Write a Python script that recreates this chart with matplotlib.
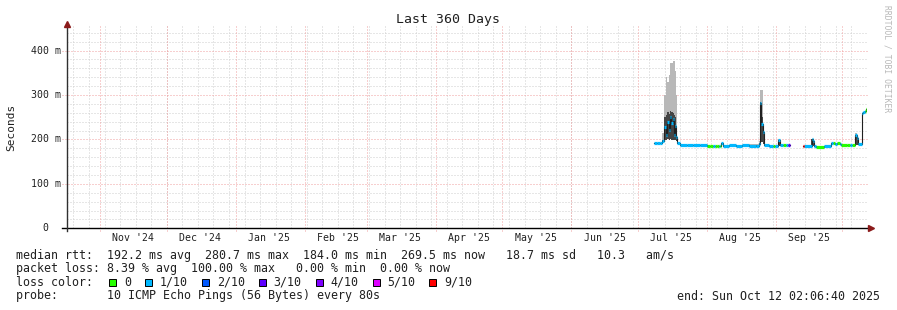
import datetime as dt

import numpy as np
import pandas as pd
import matplotlib
matplotlib.use("Agg")
import matplotlib.pyplot as plt
import matplotlib.dates as mdates
from matplotlib import transforms
from matplotlib.patches import Rectangle

W, H = 897, 310
MONO = "DejaVu Sans Mono"

# ---- data ------------------------------------------------------------------
START = dt.datetime(2024, 10, 17, 2, 6, 40)
END = dt.datetime(2025, 10, 12, 2, 6, 40)
BASE = dt.datetime(2025, 7, 1)  # day offsets below count from here

day = [7.1, 8.5, 10.0, 11.0, 11.8, 12.5, 13.2, 13.9, 14.5, 15.1,
       15.6, 16.2, 16.8, 17.3, 17.8, 19.0, 22.0, 25.0, 28.0, 31.0,
       32.5, 33.7, 34.5, 35.5, 36.3, 37.0, 37.6, 38.2, 41.0, 44.0,
       47.0, 50.0, 53.0, 54.4, 55.0, 55.6, 56.2, 56.8, 59.0, 61.0,
       61.8, 63.2, 63.8, 65.5, 66.5, 67.7, 68.3, 74.3, 74.8, 78.2,
       78.8, 79.4, 80.3, 83.6, 86.8, 87.8, 88.8, 89.8, 90.8, 91.6,
       94.0, 95.5, 96.2, 97.9, 98.4, 98.9, 101.0, 101.5, 102.0, 102.5]
median_ms = [192.8, 192.5, 193.0, 196, 229, 210, 240, 221, 251, 236,
             245, 210, 230, 205, 191, 188, 187, 188, 187, 186,
             186, 186, 185.5, 186, 186, 186, 191, 186, 186.5, 186,
             186.5, 186, 186, 190, 281, 235, 217, 187, 186, 186,
             186, 199, 187, 187, 186.5, 187, np.nan, 185, 186, 200,
             197, 186, 184, 185.5, 191, 191, 190.5, 191, 190, 188,
             188, 188, 188, 210, 203, 189, 259, 262, 265, 268]
loss_idx = [1, 1, 1, 1, 1, 1, 1, 1, 1, 1,
            1, 1, 1, 1, 1, 1, 1, 1, 1, 0,
            0, 1, 0, 0, 1, 0, 1, 1, 1, 1,
            1, 1, 1, 1, 1, 1, 1, 1, 1, 0,
            1, 1, 1, 0, 1, 3, 1, 6, 1, 1,
            1, 1, 0, 1, 1, 0, 1, 0, 1, 0,
            0, 1, 0, 1, 1, 1, 1, 1, 0, 0]

nan = np.nan
smoke_day = [10.8, 11.8, 12.5, 13.2, 13.9, 14.5, 15.1, 15.6, 16.2, 16.8, 17.3, 17.8,
             48.5, 54.4, 55.0, 55.6, 56.2, 56.8, 62.9, 63.8, 77.9, 78.8, 79.4,
             97.6, 98.4, 99.0]
smoke_lo = [192, 199, 199, 200, 199, 200, 199, 199, 199, 199, 196, nan,
            186, 187, 190, 195, 190, nan, 186, nan, 186, 186, nan, 187, 187, nan]
smoke_mid = [198, 250, 255, 262, 258, 265, 262, 260, 255, 250, 222, nan,
             188, 192, 285, 250, 220, nan, 199, nan, 200, 197, nan, 210, 203, nan]
smoke_top = [215, 300, 341, 330, 345, 371, 371, 377, 377, 353, 300, nan,
             190, 196, 311, 311, 230, nan, 200, nan, 202, 199, nan, 215, 206, nan]

loss_labels = ["0", "1/10", "2/10", "3/10", "4/10", "5/10", "9/10"]
loss_colors = ["#26ff00", "#00b8ff", "#0059ff", "#5e00ff", "#7e00ff", "#dd00ff", "#ff0000"]

month_labels = ["Nov '24", "Dec '24", "Jan '25", "Feb '25", "Mar '25", "Apr '25",
                "May '25", "Jun '25", "Jul '25", "Aug '25", "Sep '25"]
ytick_ms = [0, 100, 200, 300, 400]
y_max_ms = 456

title = "Last 360 Days"
row_rtt = "median rtt:  192.2 ms avg  280.7 ms max  184.0 ms min  269.5 ms now   18.7 ms sd   10.3   am/s"
row_loss = "packet loss: 8.39 % avg  100.00 % max   0.00 % min  0.00 % now"
row_color = "loss color:"
row_probe = "probe:       10 ICMP Echo Pings (56 Bytes) every 80s"
end_text = "end: Sun Oct 12 02:06:40 2025"

# ---- figure -----------------------------------------------------------------
fig = plt.figure(figsize=(W / 100, H / 100), dpi=100)
fig.patch.set_facecolor("white")

L, R, T, B = 67, 867, 25.7, 228.3
ax = fig.add_axes([L / W, 1 - B / H, (R - L) / W, (B - T) / H])
ax.set_xlim(mdates.date2num(START), mdates.date2num(END))
ax.set_ylim(0, y_max_ms)
for s in ax.spines.values():
    s.set_visible(False)
ax.set_xticks([])
ax.set_yticks([])

ax_x_data_y = transforms.blended_transform_factory(ax.transAxes, ax.transData)

# grid: minor first, major on top
dot = (0, (1, 2))
weeks = pd.date_range("2024-10-20", END, freq="7D")
for w in weeks:
    ax.axvline(mdates.date2num(w), color="#cfcfcf", lw=0.72, ls=dot, zorder=0)
for v in range(20, y_max_ms, 20):
    if v % 100:
        ax.axhline(v, color="#cfcfcf", lw=0.72, ls=dot, zorder=0)
months = pd.date_range("2024-11-01", "2025-10-01", freq="MS")
for m in months:
    ax.plot([mdates.date2num(m)] * 2, [-5, y_max_ms], color="#f0a0a0", lw=0.72,
            ls=dot, zorder=1, clip_on=False)
for v in ytick_ms[1:]:
    ax.plot([-5 / 800, 1], [v, v], transform=ax_x_data_y, color="#f0a0a0",
            lw=0.72, ls=dot, zorder=1, clip_on=False)

# smoke
base = mdates.date2num(BASE)
sx = base + np.array(smoke_day)
sw = np.diff(sx)
lo = np.array(smoke_lo[:-1])
ok = np.isfinite(lo)
top = np.array(smoke_top[:-1])
mid = np.array(smoke_mid[:-1])
ax.bar(sx[:-1][ok], (top - lo)[ok], bottom=lo[ok], width=sw[ok], align="edge",
       color="#b8b8b8", linewidth=0, zorder=2)
ax.bar(sx[:-1][ok], (mid - lo)[ok], bottom=lo[ok], width=sw[ok], align="edge",
       color="#454545", linewidth=0, zorder=2)

# median: thin dark line, then thick loss-coloured segments
x = base + np.array(day)
x_end = np.append(x[1:], mdates.date2num(END))
med = np.array(median_ms, dtype=float)
ax.plot(np.append(x, x_end[-1]), np.append(med, med[-1]), drawstyle="steps-post",
        color="#202020", lw=0.8, zorder=3)
loss = np.array(loss_idx)
for k, col in enumerate(loss_colors):
    sel = (loss == k) & np.isfinite(med)
    if sel.any():
        ax.hlines(med[sel], x[sel], x_end[sel], color=col, lw=2.3, zorder=4,
                  capstyle="butt")

# month labels centred half a month after each month start
for m, lab in zip(months, month_labels):
    ax.text(mdates.date2num(m) + 15, -22, lab, ha="center", va="center",
            family=MONO, fontsize=7.1, color="#202020", clip_on=False)

# y labels, rrdtool style "%3.0f %s"
for v in ytick_ms:
    lab = f"{v:3d}" + (" m" if v else "")
    ax.text(30.7 / W, v, lab, transform=transforms.blended_transform_factory(
        fig.transFigure, ax.transData), ha="left", va="center", family=MONO,
        fontsize=7.1, color="#202020")

# ---- overlay in pixel coordinates for axes arrows and legend ---------------
ov = fig.add_axes([0, 0, 1, 1])
ov.set_xlim(0, W)
ov.set_ylim(H, 0)
ov.axis("off")
ov.patch.set_visible(False)

ov.plot([62, 869], [B, B], color="black", lw=1.0, zorder=5)
ov.plot([L, L], [B + 3, 26], color="#303030", lw=1.0, zorder=5)
ov.plot([871], [B], marker=">", ms=4.5, color="#8b1a1a", mec="#8b1a1a", zorder=6)
ov.plot([L], [24], marker="^", ms=4.5, color="#8b1a1a", mec="#8b1a1a", zorder=6)

ov.text(W / 2, 19.5, title, ha="center", va="center", family=MONO, fontsize=9.5,
        color="#202020")
ov.text(11, 127, "Seconds", ha="center", va="center", rotation=90, family=MONO,
        fontsize=8, color="#202020")
ov.text(887, 59, "RRDTOOL / TOBI OETIKER", ha="center", va="center", rotation=270,
        family=MONO, fontsize=5.8, color="#b8b8b8")

fs = 8.35
cw = fs / 72 * 100 * 0.602  # monospace advance in px
rows_y = [255, 268.5, 282.3, 296]
for yy, txt in zip(rows_y, [row_rtt, row_loss, row_color, row_probe]):
    ov.text(16, yy, txt, ha="left", va="center", family=MONO, fontsize=fs,
            color="#202020")
ov.text(880, rows_y[3], end_text, ha="right", va="center", family=MONO,
        fontsize=fs, color="#202020")

bx = 109
for lab, col in zip(loss_labels, loss_colors):
    ov.add_patch(Rectangle((bx, rows_y[2] - 3.5), 7, 7, facecolor=col,
                           edgecolor="black", lw=0.7))
    tx = bx + 15
    ov.text(tx, rows_y[2], lab, ha="left", va="center", family=MONO,
            fontsize=fs, color="#202020")
    bx = tx + (len(lab) + 2) * cw

fig.savefig("out.png", dpi=100)
